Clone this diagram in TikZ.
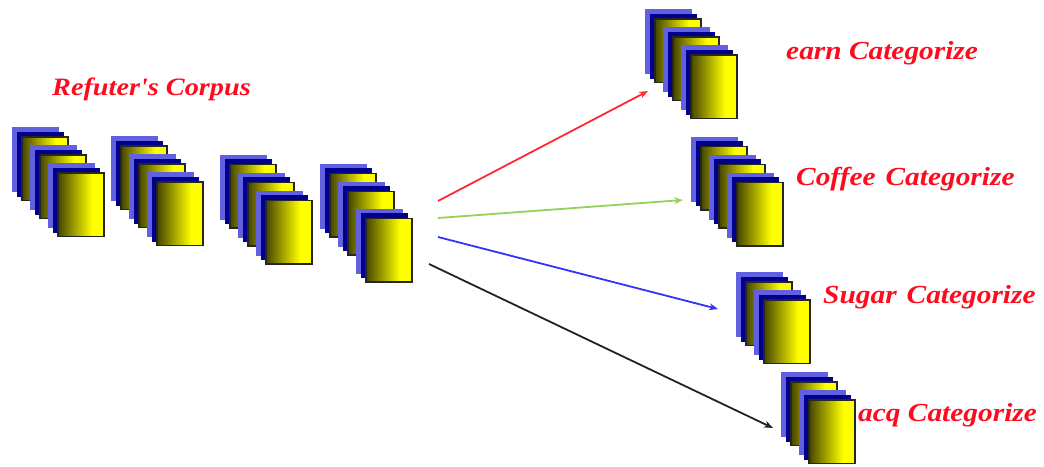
\documentclass[tikz,border=0pt]{standalone}
\usepackage{fontspec}
\setmainfont{Liberation Serif}
\newfontfamily\capfont[FakeStretch=1.13]{Liberation Serif}
\usetikzlibrary{arrows.meta}
\definecolor{cardlight}{RGB}{96,96,224}
\definecolor{carddark}{RGB}{0,0,140}
\definecolor{cardyellow}{RGB}{255,255,0}
\definecolor{cardolive}{RGB}{70,70,0}
\definecolor{cardmid}{RGB}{195,195,0}
\definecolor{labelred}{RGB}{255,10,30}
\definecolor{arrowred}{RGB}{255,40,50}
\definecolor{arrowgreen}{RGB}{145,210,90}
\definecolor{arrowblue}{RGB}{50,50,250}
\definecolor{arrowblack}{RGB}{35,35,35}
\pgfdeclarehorizontalshading{cardfade}{100bp}{color(0bp)=(cardolive); color(25bp)=(cardolive); color(50bp)=(cardmid); color(62bp)=(cardyellow); color(100bp)=(cardyellow)}
\tikzset{
  cardbase/.style={anchor=north west,inner sep=0pt,outer sep=0pt,minimum width=47pt,minimum height=65pt},
  cardback/.style={cardbase,fill=cardlight},
  cardshadow/.style={cardbase,fill=carddark},
  cardface/.style={cardbase,draw=black!85,line width=1.4pt,minimum width=46pt,minimum height=63.5pt,shading=cardfade},
  caption/.style={anchor=west,inner sep=0pt,text=labelred,font=\fontsize{26}{28}\capfont\bfseries\itshape},
  corpuscaption/.style={caption,font=\fontsize{25}{27}\capfont\bfseries\itshape},
  flow/.style={line width=1.8pt,-{Stealth[length=9pt,width=7pt]}},
}
% \cardstack{name}{x}{y}{index/x offset/y offset list}
\newcommand{\cardstack}[4]{%
  \foreach \i/\ox/\oy in {#4}{%
    \pgfmathsetmacro{\cx}{#2+\ox}%
    \pgfmathsetmacro{\cy}{#3+\oy}%
    \node[cardback]   (#1-\i-a) at (\cx,\cy) {};
    \node[cardshadow] (#1-\i-b) at (\cx+4.5,\cy+4.5) {};
    \node[cardface]   (#1-\i-c) at (\cx+10,\cy+10) {};
  }%
}
\begin{document}
\begin{tikzpicture}[x=1pt,y=-1pt]
\useasboundingbox (0,0) rectangle (1044,466);
\cardstack{sa}{12}{127}{0/0/0,1/18/18,2/36/36}
\cardstack{sb}{111}{136}{0/0/0,1/18/18,2/36/36}
\cardstack{sc}{220}{154.5}{0/0/0,1/18/18,2/36/36}
\cardstack{sd}{320}{163.5}{0/0/0,1/18/18,2/36/45}
\cardstack{earn}{645}{9}{0/0/0,1/18/18,2/36/36}
\cardstack{coffee}{691}{136.5}{0/0/0,1/18/18,2/36/36}
\cardstack{sugar}{736}{272}{0/0/0,1/18/18}
\cardstack{acq}{781}{372}{0/0/0,1/18/18}
\node[corpuscaption] (corpus) at (52,89) {Refuter's Corpus};
\node[caption] (learn) at (786,53) {earn Categorize};
\node[caption] (lcoffee) at (796,179) {Coffee\hspace{10pt}Categorize};
\node[caption] (lsugar) at (823,297) {Sugar\hspace{10pt}Categorize};
\node[caption] (lacq) at (858,415) {acq Categorize};
\coordinate (fr) at (438,201);
\coordinate (fg) at (438,218);
\coordinate (fb) at (438,237);
\coordinate (fk) at (429,264);
\coordinate (tr) at (648,91);
\coordinate (tg) at (683,200);
\coordinate (tb) at (718,309);
\coordinate (tk) at (773,428);
\draw[flow,arrowred] (fr) -- (tr);
\draw[flow,arrowgreen] (fg) -- (tg);
\draw[flow,arrowblue] (fb) -- (tb);
\draw[flow,arrowblack] (fk) -- (tk);
\end{tikzpicture}
\end{document}
